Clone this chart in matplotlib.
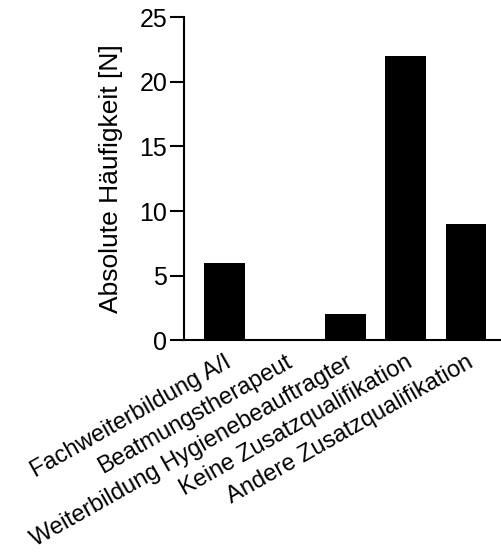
import matplotlib
matplotlib.use("Agg")
import matplotlib.pyplot as plt

categories = ["Fachweiterbildung A/I", "Beatmungstherapeut",
              "Weiterbildung Hygienebeauftragter", "Keine Zusatzqualifikation",
              "Andere Zusatzqualifikation"]
values = [6, 0, 2, 22, 9]
yticks = [0, 5, 10, 15, 20, 25]

plt.rcParams['font.family'] = ['Liberation Sans', 'DejaVu Sans']
fig = plt.figure(figsize=(5.01, 5.55), dpi=100)
ax = fig.add_axes([0.367, 0.387, 0.631, 0.582])
x = list(range(len(categories)))
ax.bar(x, values, width=0.67, color='black')
ax.set_xlim(-0.67, 4.56)
ax.set_ylim(0, 25)
ax.set_yticks(yticks)
ax.set_xticks(x)
ax.set_xticklabels(categories, rotation=29.5, ha='right', rotation_mode='anchor', fontsize=17)
ax.tick_params(axis='x', length=0, pad=8)
ax.tick_params(axis='y', length=10, width=1.5, labelsize=18, pad=2)
for s in ['top', 'right']:
    ax.spines[s].set_visible(False)
for s in ['left', 'bottom']:
    ax.spines[s].set_linewidth(1.5)
ax.set_ylabel("Absolute Häufigkeit [N]", fontsize=19, labelpad=12)
fig.savefig("out.png", dpi=100)
